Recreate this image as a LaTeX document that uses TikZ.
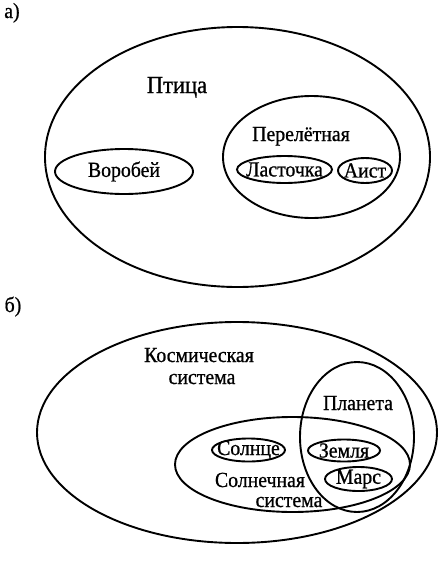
\documentclass[tikz,border=0pt]{standalone}
\usepackage{fontspec}
\setmainfont{Liberation Serif}[FakeStretch=0.92, FakeBold=0.8]
\usetikzlibrary{shapes.geometric}
\usetikzlibrary{positioning}
\tikzset{oval/.style={draw, ellipse, line width=1.9pt, inner sep=0pt}}
\tikzset{lbl/.style={font=\fontsize{21.5}{24}\selectfont, inner sep=0pt}}

\begin{document}
\begin{tikzpicture}[x=1pt, y=-1pt]
  \useasboundingbox (0,0) rectangle (444,563);

  % a) birds
  \node[lbl, anchor=base] (labA) at (12,18) {а)};
  \node[oval, minimum width=385pt, minimum height=260pt] (ptica) at (237.5,157) {};
  \node[lbl, anchor=base, font=\fontsize{24.5}{27}\selectfont] (pticaT) at (177,93) {Птица};
  \node[oval, minimum width=138pt, minimum height=45pt] (vorobey) at (124,171.5) {};
  \node[lbl] (vorobeyT) at (vorobey) {Воробей};
  \node[oval, minimum width=177pt, minimum height=122pt] (perelet) at (311.5,157) {};
  \node[lbl, anchor=base] (pereletT) at (301,141) {Перелётная};
  \node[oval, minimum width=95pt, minimum height=27pt] (lastochka) at (284.5,169.5) {};
  \node[lbl] (lastochkaT) at (lastochka) {Ласточка};
  \node[oval, minimum width=54pt, minimum height=25pt] (aist) at (365,170.5) {};
  \node[lbl] (aistT) at (aist) {Аист};

  % b) space
  \node[lbl, anchor=base] (labB) at (13,312) {б)};
  \node[oval, minimum width=400pt, minimum height=221pt] (kosm) at (237,432.5) {};
  \node[lbl, anchor=base] (kosmT) at (199,362) {Космическая};
  \node[lbl, anchor=base] (kosmS) at (202,384) {система};
  \node[oval, minimum width=114pt, minimum height=150pt] (planeta) at (357,437) {};
  \node[lbl, anchor=base] (planetaT) at (358,410) {Планета};
  \node[oval, minimum width=235pt, minimum height=95pt] (solsys) at (292.5,464.5) {};
  \node[lbl, anchor=base] (solsysT) at (260,487) {Солнечная};
  \node[lbl, anchor=base] (solsysS) at (289,507) {система};
  \node[oval, minimum width=73pt, minimum height=23pt] (solnce) at (248.5,450) {};
  \node[lbl] (solnceT) at (solnce) {Солнце};
  \node[oval, minimum width=72pt, minimum height=22pt] (zemlya) at (344,450.5) {};
  \node[lbl] (zemlyaT) at (zemlya) {Земля};
  \node[oval, minimum width=67pt, minimum height=24pt] (mars) at (358.5,479) {};
  \node[lbl] (marsT) at (mars) {Марс};
\end{tikzpicture}
\end{document}
